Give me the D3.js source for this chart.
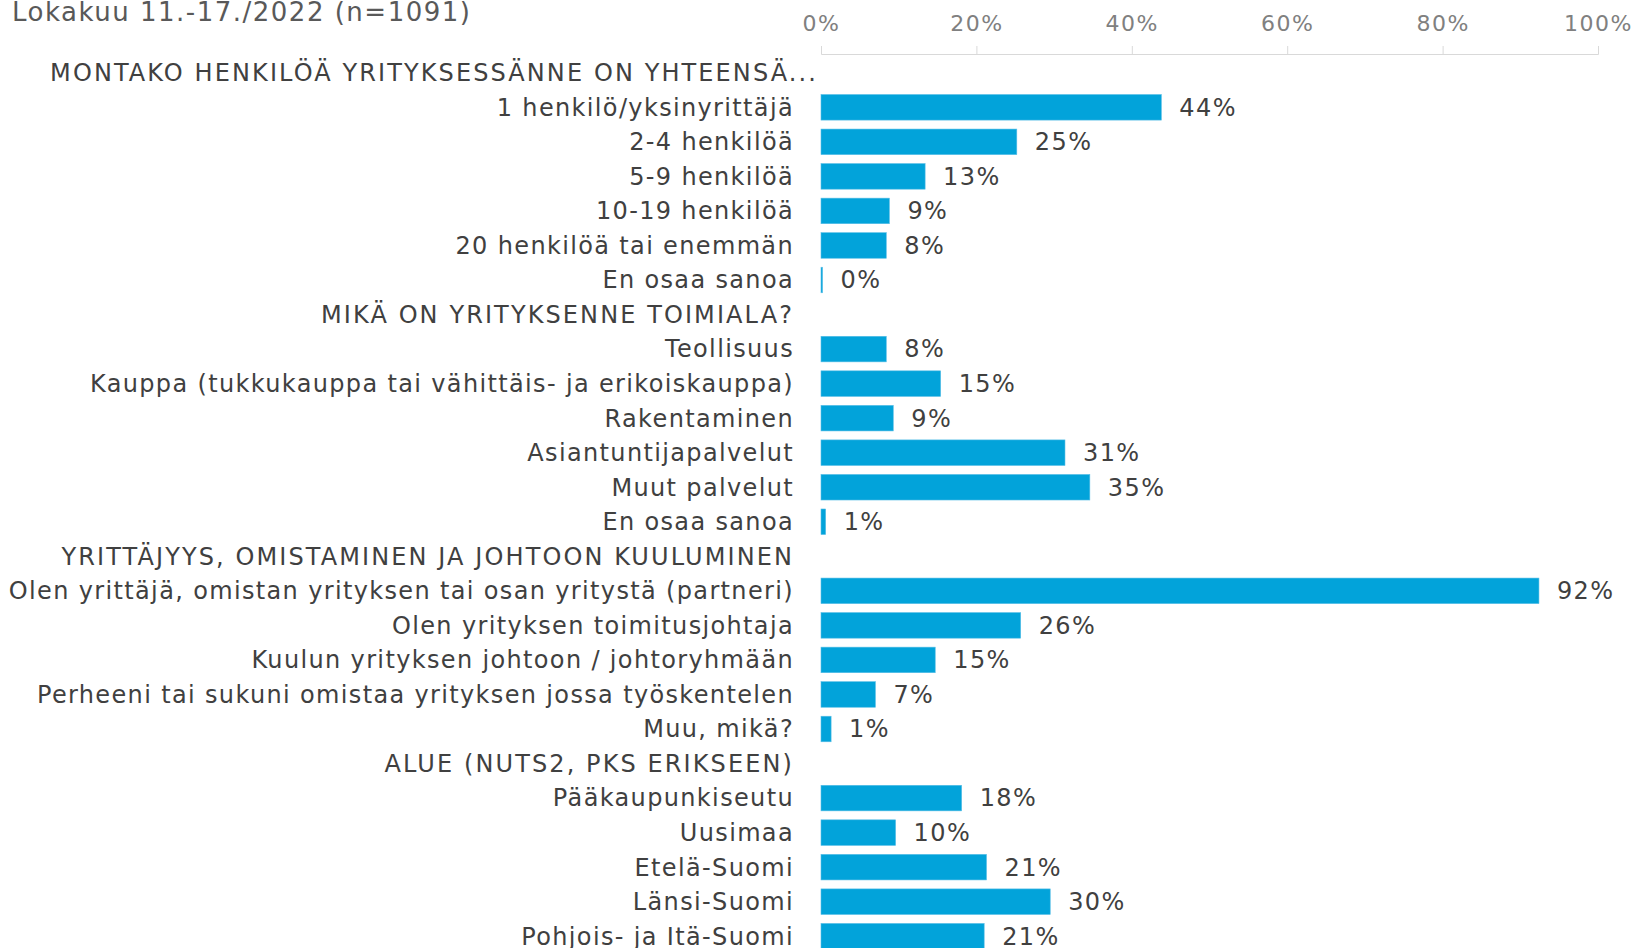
<!DOCTYPE html>
<html lang="fi">
<head>
<meta charset="utf-8"/>
<title>Lokakuu 2022</title>
<script src="https://d3js.org/d3.v7.min.js"></script>
<style>
  body { margin: 0; background: #fff; }
  text { font-family: "DejaVu Sans", Verdana, sans-serif; }
  .axis .domain, .axis line { stroke: #d9d9d9; }
  .axis text { fill: #808080; font-size: 22px; letter-spacing: 1.5px; }
  .label { fill: #404040; font-size: 24px; letter-spacing: 1.35px; }
  .label.head { letter-spacing: 2.1px; }
  .value { fill: #404040; font-size: 24px; letter-spacing: 1.4px; }
</style>
</head>
<body>
<div id="chart"></div>
<script>
  // data (share of respondents, %), headers have no value
  var title = "Lokakuu 11.-17./2022 (n=1091)";

  var categories = [
    "MONTAKO HENKILÖÄ YRITYKSESSÄNNE ON YHTEENSÄ...",
    "1 henkilö/yksinyrittäjä",
    "2-4 henkilöä",
    "5-9 henkilöä",
    "10-19 henkilöä",
    "20 henkilöä tai enemmän",
    "En osaa sanoa",
    "MIKÄ ON YRITYKSENNE TOIMIALA?",
    "Teollisuus",
    "Kauppa (tukkukauppa tai vähittäis- ja erikoiskauppa)",
    "Rakentaminen",
    "Asiantuntijapalvelut",
    "Muut palvelut",
    "En osaa sanoa ",
    "YRITTÄJYYS, OMISTAMINEN JA JOHTOON KUULUMINEN",
    "Olen yrittäjä, omistan yrityksen tai osan yritystä (partneri)",
    "Olen yrityksen toimitusjohtaja",
    "Kuulun yrityksen johtoon / johtoryhmään",
    "Perheeni tai sukuni omistaa yrityksen jossa työskentelen",
    "Muu, mikä?",
    "ALUE (NUTS2, PKS ERIKSEEN)",
    "Pääkaupunkiseutu",
    "Uusimaa",
    "Etelä-Suomi",
    "Länsi-Suomi",
    "Pohjois- ja Itä-Suomi"
  ];

  var values = [
    null, 43.8, 25.2, 13.4, 8.8, 8.4, 0.2,
    null, 8.4, 15.4, 9.3, 31.4, 34.6, 0.6,
    null, 92.4, 25.7, 14.7, 7.0, 1.3,
    null, 18.1, 9.6, 21.3, 29.5, 21.0
  ];

  var tickValues = [0, 20, 40, 60, 80, 100];

  var data = categories.map(function(c, i) { return { name: c, value: values[i] }; });

  var width = 1639,
      height = 948,
      labelX = 794;

  var svg = d3.select("#chart").append("svg")
      .attr("width", width)
      .attr("height", height);

  var x = d3.scaleLinear()
      .domain([0, 100])
      .range([821, 1598]);

  var y = d3.scaleBand()
      .domain(categories)
      .range([55.5, 953.5])
      .paddingInner(0.26)
      .paddingOuter(0.13);

  svg.append("text")
      .attr("class", "label")
      .attr("x", 12)
      .attr("y", 21)
      .style("fill", "#595959")
      .style("font-size", "26px")
      .style("letter-spacing", "1.5px")
      .text(title);

  svg.append("g")
      .attr("class", "axis")
      .attr("transform", "translate(0,54)")
      .call(d3.axisTop(x)
        .tickValues(tickValues)
        .tickSize(8)
        .tickPadding(15)
        .tickFormat(function(d) { return d + "%"; }));

  svg.selectAll(".label.cat")
    .data(data)
    .enter().append("text")
      .attr("class", function(d) { return d.value === null ? "label cat head" : "label cat"; })
      .attr("x", function(d) { return /\.\.\.$/.test(d.name) ? labelX + 24 : labelX; })
      .attr("y", function(d) { return y(d.name) + y.bandwidth() / 2; })
      .attr("dy", "0.35em")
      .attr("text-anchor", "end")
      .text(function(d) { return d.name.trim(); });

  var rows = data.filter(function(d) { return d.value !== null; });

  svg.append("g")
    .selectAll("rect")
    .data(rows)
    .enter().append("rect")
      .attr("x", x(0))
      .attr("y", function(d) { return y(d.name); })
      .attr("width", function(d) { return Math.max(1, x(d.value) - x(0)); })
      .attr("height", y.bandwidth())
      .attr("fill", "#02a3da")
      .attr("stroke", "#56bde6")
      .attr("stroke-width", 0.6);

  svg.append("g")
    .selectAll("text")
    .data(rows)
    .enter().append("text")
      .attr("class", "value")
      .attr("x", function(d) { return x(d.value) + 18; })
      .attr("y", function(d) { return y(d.name) + y.bandwidth() / 2; })
      .attr("dy", "0.35em")
      .text(function(d) { return Math.round(d.value) + "%"; });
</script>
</body>
</html>
